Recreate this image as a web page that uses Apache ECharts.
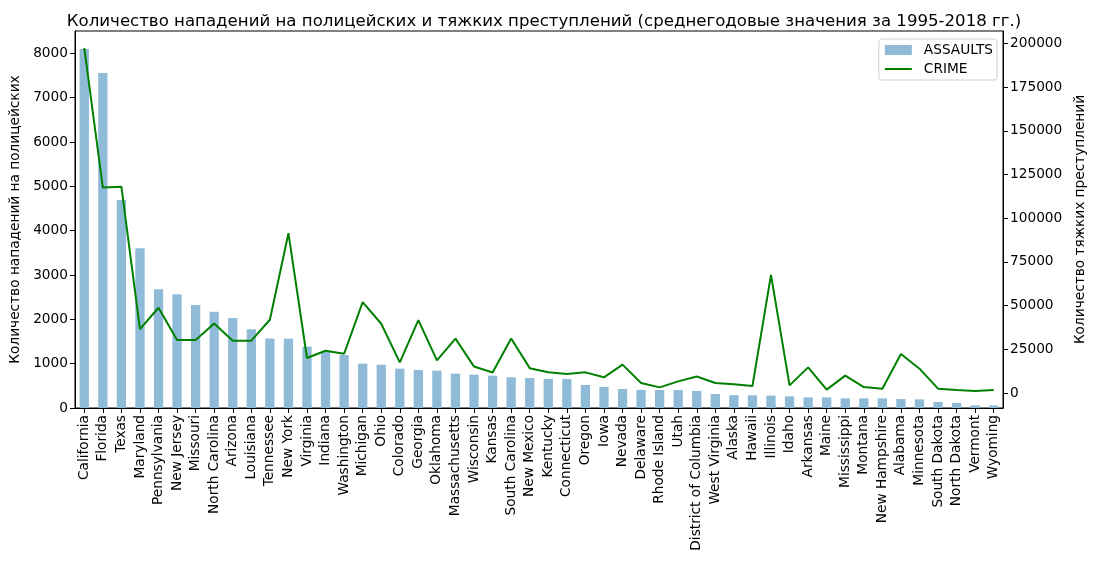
<!DOCTYPE html>
<html>
<head>
<meta charset="utf-8">
<script src="https://cdn.jsdelivr.net/npm/echarts@6/dist/echarts.min.js"></script>
<style>html,body{margin:0;padding:0;background:#fff}#c{width:1096px;height:566px}</style>
</head>
<body>
<div id="c"></div>
<script>
const categories = ["California","Florida","Texas","Maryland","Pennsylvania","New Jersey","Missouri","North Carolina","Arizona","Louisiana","Tennessee","New York","Virginia","Indiana","Washington","Michigan","Ohio","Colorado","Georgia","Oklahoma","Massachusetts","Wisconsin","Kansas","South Carolina","New Mexico","Kentucky","Connecticut","Oregon","Iowa","Nevada","Delaware","Rhode Island","Utah","District of Columbia","West Virginia","Alaska","Hawaii","Illinois","Idaho","Arkansas","Maine","Mississippi","Montana","New Hampshire","Alabama","Minnesota","South Dakota","North Dakota","Vermont","Wyoming"];
const assaults = [8100,7555,4695,3605,2679,2566,2325,2174,2032,1776,1568,1565,1384,1270,1196,1000,977,888,858,843,775,752,730,692,677,656,655,519,474,429,408,406,405,384,316,290,285,280,262,240,239,218,217,216,203,195,135,113,60,58];
const crime = [197500,117500,118000,36570,48740,30280,30280,39780,29900,29900,41900,91400,20000,24170,22460,52000,39600,17500,41700,18650,31100,15100,11700,31200,14200,11800,10900,11800,8950,16200,5700,3200,6650,9400,5700,5000,4000,67600,4360,14650,1900,9900,3400,2450,22300,13900,2450,1700,1140,1700];
const leftTicks = [0,1000,2000,3000,4000,5000,6000,7000,8000];
const rightTicks = [0,25000,50000,75000,100000,125000,150000,175000,200000];

const font = 'DejaVu Sans';
const fs = 13.7;
const plain = v => String(Math.round(v));
const chart = echarts.init(document.getElementById('c'), null, {renderer:'canvas'});
chart.setOption({
  animation: false,
  backgroundColor: '#ffffff',
  textStyle: {fontFamily: font, color: '#000'},
  title: {
    text: 'Количество нападений на полицейских и тяжких преступлений (среднегодовые значения за 1995-2018 гг.)',
    left: 539, top: 8, textAlign: 'center',
    textStyle: {fontFamily: font, fontSize: 16.6, fontWeight: 'normal', color: '#000'}
  },
  legend: {
    orient: 'vertical', right: 99, top: 39,
    padding: [4, 4, 4, 6], itemGap: 5, itemWidth: 27, itemHeight: 10,
    borderColor: '#d0d0d0', borderWidth: 1, borderRadius: 3, backgroundColor: '#fff',
    textStyle: {fontFamily: font, fontSize: fs, color: '#000', padding: [0,0,0,7]},
    data: [{name: 'ASSAULTS', icon: 'rect'}, {name: 'CRIME', icon: 'path://M0,4 L27,4 L27,6 L0,6 Z'}]
  },
  grid: {left: 75, right: 93, top: 31, bottom: 158, containLabel: false, outerBoundsMode: 'none',
    show: true, borderColor: '#000', borderWidth: 1, backgroundColor: 'transparent'},
  xAxis: {
    type: 'category', data: categories, boundaryGap: true,
    axisLine: {show: true, lineStyle: {color: '#000', width: 1}},
    axisTick: {show: true, alignWithLabel: true, interval: 0, length: 5, lineStyle: {color: '#000'}},
    axisLabel: {interval: 0, rotate: 90, margin: 7, fontFamily: font, fontSize: fs, color: '#000'},
    splitLine: {show: false}
  },
  yAxis: [{
    type: 'value', position: 'left', min: 0, max: 8505, interval: 1000,
    name: 'Количество нападений на полицейских', nameLocation: 'middle', nameGap: 40, nameRotate: 90,
    nameTextStyle: {fontFamily: font, fontSize: fs, color: '#000'},
    axisLine: {show: true, lineStyle: {color: '#000'}},
    axisTick: {show: true, length: 5, lineStyle: {color: '#000'}, customValues: leftTicks},
    axisLabel: {fontFamily: font, fontSize: fs, color: '#000', margin: 7, customValues: leftTicks, formatter: plain},
    splitLine: {show: false}
  }, {
    type: 'value', position: 'right', min: -8600, max: 207100, alignTicks: false,
    name: 'Количество тяжких преступлений', nameLocation: 'middle', nameGap: 61, nameRotate: 90,
    nameTextStyle: {fontFamily: font, fontSize: fs, color: '#000'},
    axisLine: {show: true, lineStyle: {color: '#000'}},
    axisTick: {show: true, length: 5, lineStyle: {color: '#000'}, customValues: rightTicks},
    axisLabel: {fontFamily: font, fontSize: fs, color: '#000', margin: 7, customValues: rightTicks, formatter: plain},
    splitLine: {show: false}
  }],
  series: [{
    name: 'ASSAULTS', type: 'bar', data: assaults, yAxisIndex: 0, barWidth: '50%',
    itemStyle: {color: '#8fbbd9'}, z: 2
  }, {
    name: 'CRIME', type: 'line', data: crime, yAxisIndex: 1, symbol: 'none', showSymbol: false,
    lineStyle: {color: '#008000', width: 2}, itemStyle: {color: '#008000'}, z: 3
  }]
});
</script>
</body>
</html>
